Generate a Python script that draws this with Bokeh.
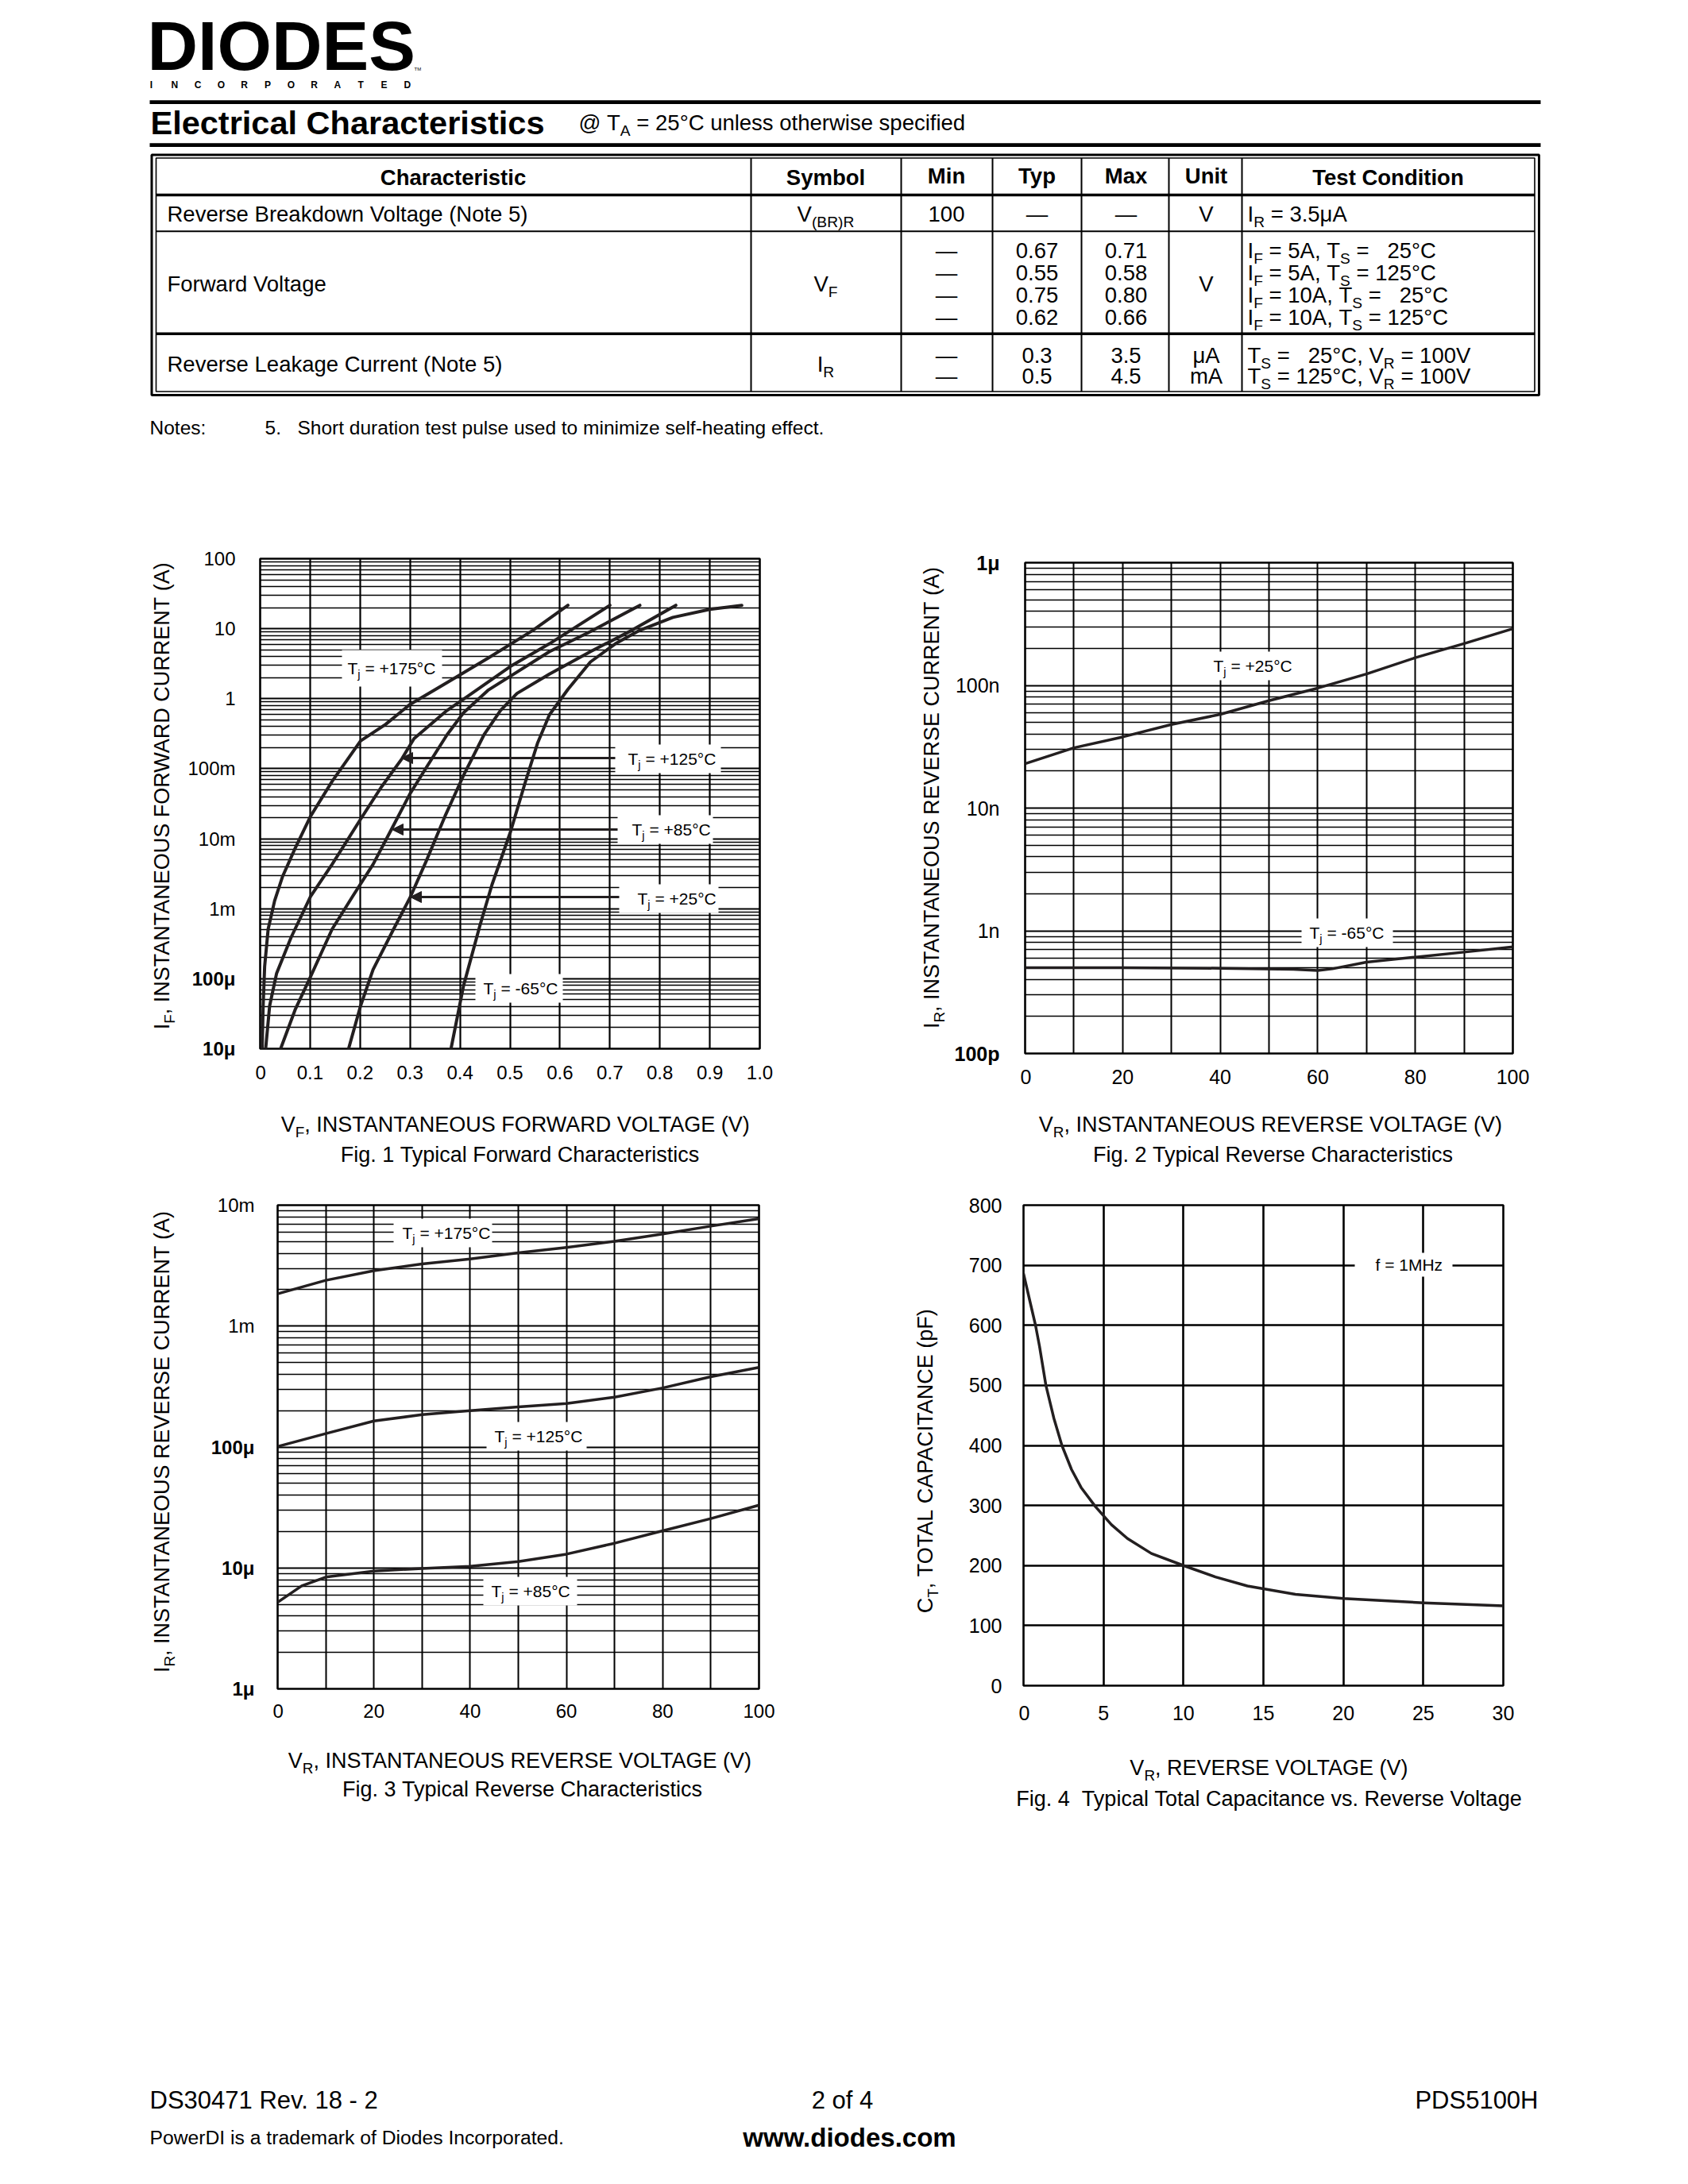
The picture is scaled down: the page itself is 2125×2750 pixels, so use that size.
import math
from bokeh.plotting import figure
from bokeh.models import (Range1d, Label, FixedTicker, CustomJSTickFormatter, Grid,
                          Arrow, NormalHead)
from bokeh.layouts import column, row
from bokeh.embed import file_html
from bokeh.resources import INLINE

FONT = "Liberation Sans"
INK = "#231f20"

# ------------------------------------------------------------------ table data
TABLE_HEADERS = ["Characteristic", "Symbol", "Min", "Typ", "Max", "Unit", "Test Condition"]
VBR_MIN = "100"
VF_TYP = ["0.67", "0.55", "0.75", "0.62"]
VF_MAX = ["0.71", "0.58", "0.80", "0.66"]
VF_IF = ["5A", "5A", "10A", "10A"]
VF_TS = ["25°C", "125°C", "25°C", "125°C"]
IR_TYP = ["0.3", "0.5"]
IR_MAX = ["3.5", "4.5"]
IR_UNIT = ["μA", "mA"]
IR_TS = ["25°C", "125°C"]

# ------------------------------------------------------------------ Fig. 1 data (VF [V], IF [A])
VF_175 = [0.004, 0.006, 0.009, 0.016, 0.029, 0.045, 0.070, 0.101, 0.144, 0.201, 0.251, 0.300, 0.374, 0.456, 0.546, 0.616]
IF_175 = [1.0e-5, 4.1e-5, 1.5e-4, 5.1e-4, 1.3e-3, 2.9e-3, 7.3e-3, 0.021, 0.066, 0.25, 0.43, 0.83, 1.7, 3.8, 9.5, 21.6]
VF_125 = [0.011, 0.019, 0.033, 0.062, 0.101, 0.144, 0.201, 0.242, 0.284, 0.308, 0.374, 0.415, 0.501, 0.579, 0.700]
IF_125 = [1.0e-5, 4.1e-5, 1.2e-4, 3.9e-4, 1.5e-3, 4.3e-3, 0.019, 0.054, 0.14, 0.27, 0.68, 1.08, 2.9, 6.1, 21.6]
VF_85 = [0.041, 0.070, 0.099, 0.144, 0.185, 0.226, 0.263, 0.300, 0.333, 0.374, 0.407, 0.456, 0.501, 0.579, 0.661, 0.760]
IF_85 = [1.0e-5, 3.6e-5, 1.0e-4, 5.1e-4, 1.5e-3, 4.3e-3, 0.0137, 0.044, 0.105, 0.305, 0.63, 1.32, 2.1, 4.7, 9.1, 21.6]
VF_25 = [0.177, 0.201, 0.226, 0.267, 0.300, 0.333, 0.370, 0.407, 0.448, 0.481, 0.514, 0.579, 0.661, 0.744, 0.832]
IF_25 = [1.0e-5, 4.1e-5, 1.35e-4, 5.1e-4, 1.44e-3, 4.9e-3, 0.021, 0.08, 0.305, 0.68, 1.19, 2.25, 4.7, 9.5, 21.6]
VF_M65 = [0.382, 0.407, 0.440, 0.464, 0.501, 0.530, 0.555, 0.579, 0.616, 0.661, 0.711, 0.760, 0.826, 0.900, 0.964]
IF_M65 = [1.0e-5, 7.9e-5, 5.8e-4, 2.2e-3, 0.0125, 0.062, 0.23, 0.59, 1.36, 3.35, 6.1, 9.5, 14.5, 18.9, 21.6]
F1_XTICKS = [0.0, 0.1, 0.2, 0.3, 0.4, 0.5, 0.6, 0.7, 0.8, 0.9, 1.0]
F1_XLABELS = ["0", "0.1", "0.2", "0.3", "0.4", "0.5", "0.6", "0.7", "0.8", "0.9", "1.0"]
F1_YTICKS = [1e-5, 1e-4, 1e-3, 1e-2, 1e-1, 1.0, 10.0, 100.0]
F1_YLABELS = ["10μ", "100μ", "1m", "10m", "100m", "1", "10", "100"]

# ------------------------------------------------------------------ Fig. 2 data (VR [V], IR [A])
VR2_25 = [0, 10, 20, 30, 40, 50, 60, 70, 80, 90, 100]
IR2_25 = [23e-9, 31e-9, 38e-9, 48e-9, 58e-9, 75e-9, 95e-9, 124e-9, 168e-9, 219e-9, 290e-9]
VR2_M65 = [0, 20, 40, 55, 60, 63, 70, 80, 90, 100]
IR2_M65 = [0.50e-9, 0.50e-9, 0.495e-9, 0.485e-9, 0.475e-9, 0.49e-9, 0.555e-9, 0.61e-9, 0.67e-9, 0.74e-9]
F2_XTICKS = [0, 20, 40, 60, 80, 100]
F2_XLABELS = ["0", "20", "40", "60", "80", "100"]
F2_YTICKS = [1e-10, 1e-9, 1e-8, 1e-7, 1e-6]
F2_YLABELS = ["100p", "1n", "10n", "100n", "1μ"]

# ------------------------------------------------------------------ Fig. 3 data (VR [V], IR [A])
VR3 = [0, 10, 20, 30, 40, 50, 60, 70, 80, 90, 100]
IR3_175 = [1.85e-3, 2.39e-3, 2.87e-3, 3.27e-3, 3.59e-3, 4.03e-3, 4.47e-3, 5.02e-3, 5.78e-3, 6.71e-3, 7.73e-3]
IR3_125 = [101e-6, 129e-6, 164e-6, 185e-6, 200e-6, 215e-6, 229e-6, 258e-6, 308e-6, 381e-6, 456e-6]
VR3_85 = [0, 5, 10, 20, 30, 40, 50, 60, 70, 80, 90, 100]
IR3_85 = [5.2e-6, 7.1e-6, 8.4e-6, 9.4e-6, 9.9e-6, 10.3e-6, 11.3e-6, 13.0e-6, 16.0e-6, 20.3e-6, 25.6e-6, 33.0e-6]
F3_XTICKS = [0, 20, 40, 60, 80, 100]
F3_XLABELS = ["0", "20", "40", "60", "80", "100"]
F3_YTICKS = [1e-6, 1e-5, 1e-4, 1e-3, 1e-2]
F3_YLABELS = ["1μ", "10μ", "100μ", "1m", "10m"]

# ------------------------------------------------------------------ Fig. 4 data (VR [V], CT [pF])
VR4 = [0, 0.4, 0.75, 1.0, 1.4, 1.9, 2.4, 3.0, 3.6, 4.5, 5.5, 6.5, 8.0, 10, 12, 14, 17, 20, 25, 30]
CT4 = [686, 640, 600, 565, 500, 445, 400, 360, 330, 298, 268, 245, 220, 200, 181, 166, 152, 145, 138, 133]
F4_XTICKS = [0, 5, 10, 15, 20, 25, 30]
F4_XLABELS = ["0", "5", "10", "15", "20", "25", "30"]
F4_YTICKS = [0, 100, 200, 300, 400, 500, 600, 700, 800]
F4_YLABELS = ["0", "100", "200", "300", "400", "500", "600", "700", "800"]

# ------------------------------------------------------------------ text metrics (Arial / Liberation Sans)
_W = {' ': 278, '\u00a0': 278, '!': 278, '(': 333, ')': 333, '+': 584, ',': 278, '-': 333,
      '.': 278, '/': 278, ':': 278, '=': 584, '@': 1015, '°': 400, 'μ': 576, '—': 1000}
for _c in "0123456789":
    _W[_c] = 556
_W.update(dict(A=667, B=667, C=722, D=722, E=667, F=611, G=778, H=722, I=278, J=500, K=667,
               L=556, M=833, N=722, O=778, P=667, Q=778, R=722, S=667, T=611, U=722, V=667,
               W=944, X=667, Y=667, Z=611))
_W.update(dict(a=556, b=556, c=500, d=556, e=556, f=278, g=556, h=556, i=222, j=222, k=500,
               l=222, m=833, n=556, o=556, p=556, q=556, r=333, s=500, t=278, u=556, v=500,
               w=722, x=500, y=500, z=500))


def tw(s, size):
    return sum(_W.get(c, 556) for c in s) * size / 1000.0


class Geo:
    """maps page pixel positions to a figure's data coordinates"""
    def __init__(self, left, top, w, h, xr, yr, xlog=False, ylog=False):
        self.left, self.top, self.w, self.h = left, top, w, h
        self.xr, self.yr, self.xlog, self.ylog = xr, yr, xlog, ylog

    @staticmethod
    def _m(f, r, lg):
        a, b = r
        if lg:
            la, lb = math.log10(a), math.log10(b)
            return 10 ** (la + f * (lb - la))
        return a + f * (b - a)

    def x(self, X):
        return self._m((X - self.left) / self.w, self.xr, self.xlog)

    def y(self, Y):
        return self._m((self.top + self.h - Y) / self.h, self.yr, self.ylog)


def nb(s):
    return s.replace(" ", "\u00a0")


def lab(p, g, X, Y, text, size, align="left", bold=False, angle=0.0, color="black"):
    """Y is the visual (cap) centre of the text line"""
    p.add_layout(Label(x=g.x(X), y=g.y(Y), text=nb(text), text_font=FONT,
                       text_font_size="%.1fpx" % size,
                       text_font_style="bold" if bold else "normal",
                       text_align=align, text_baseline="middle", angle=angle,
                       text_color=color))


SUBR = 0.7
SUBDROP = 0.36


def rich(p, g, X, C, segs, size, align="left"):
    sizes = [size * SUBR if s else size for _, s in segs]
    ws = [tw(t, sz) for (t, _), sz in zip(segs, sizes)]
    tot = sum(ws)
    shift = {"left": 0.0, "center": tot / 2.0, "right": tot}[align]
    pos = 0.0
    for (t, s), sz, w in zip(segs, sizes, ws):
        lab(p, g, X - shift + pos, C + (SUBDROP * size if s else 0.0), t, sz)
        pos += w


def rich_v(p, g, Xc, Yc, segs, size):
    """rotated 90deg (reads bottom to top), centred at Yc, cap centre at Xc"""
    sizes = [size * SUBR if s else size for _, s in segs]
    ws = [tw(t, sz) for (t, _), sz in zip(segs, sizes)]
    tot = sum(ws)
    pos = 0.0
    for (t, s), sz, w in zip(segs, sizes, ws):
        lab(p, g, Xc + (SUBDROP * size if s else 0.0), Yc + tot / 2.0 - pos, t, sz,
            angle=math.pi / 2)
        pos += w


JS = """
for (let i = 0; i < vals.length; i++) {
  const v = vals[i];
  if (Math.abs(v - tick) <= 1e-6 * Math.max(Math.abs(v), Math.abs(tick)) + 1e-15) return labs[i];
}
return "";
"""


def textfig(x0, y0, w, h):
    p = figure(frame_width=w, frame_height=h, x_range=Range1d(x0, x0 + w),
               y_range=Range1d(y0 + h, y0), x_axis_type=None, y_axis_type=None,
               output_backend="svg", toolbar_location=None, min_border=0)
    p.outline_line_color = None
    return p, Geo(x0, y0, w, h, (x0, x0 + w), (y0 + h, y0))


def axisfig(x0, w, y0, h, gc):
    """strip left of a chart: same vertical scale as the chart (extended to the strip's height)"""
    yr = (gc.y(y0 + h), gc.y(y0))
    p = figure(frame_width=w, frame_height=h, x_range=Range1d(x0, x0 + w),
               y_range=Range1d(*yr), y_axis_type="log" if gc.ylog else "linear",
               x_axis_location=None, y_axis_location=None,
               output_backend="svg", toolbar_location=None, min_border=0)
    p.outline_line_color = None
    p.xgrid.visible = False
    p.ygrid.visible = False
    return p, Geo(x0, y0, w, h, (x0, x0 + w), yr, False, gc.ylog)


def chart(page_left, page_top, fig_left, fig_top, fw, fh, fig_w, fig_h, xr, yr, ylog):
    mbl = page_left - fig_left
    mbt = page_top - fig_top
    mbr = fig_w - mbl - fw
    mbb = fig_h - mbt - fh
    p = figure(frame_width=fw, frame_height=fh, x_range=Range1d(*xr), y_range=Range1d(*yr),
               y_axis_type="log" if ylog else "linear", y_axis_location=None,
               output_backend="svg", toolbar_location=None, min_border_left=mbl,
               min_border_right=mbr, min_border_top=mbt, min_border_bottom=mbb)
    p.outline_line_color = "black"
    p.outline_line_width = 2.6
    p.xgrid.visible = False
    p.ygrid.visible = False
    return p, Geo(page_left, page_top, fw, fh, xr, yr, False, ylog)


def xaxis(p, xt, xl, stand, size):
    ax = p.xaxis
    ax.ticker = FixedTicker(ticks=xt)
    ax.formatter = CustomJSTickFormatter(args=dict(vals=xt, labs=xl), code=JS)
    ax.axis_line_color = None
    ax.major_tick_line_color = None
    ax.minor_tick_line_color = None
    ax.major_tick_out = 0
    ax.major_tick_in = 0
    ax.minor_tick_out = 0
    ax.minor_tick_in = 0
    ax.major_label_text_font = FONT
    ax.major_label_text_font_size = "%dpx" % size
    ax.major_label_text_color = "black"
    ax.major_label_standoff = stand


def ylabels(p, g, x_right, ticks, labels, size):
    for v, s in zip(ticks, labels):
        bold = ("μ" in s) or ("p" in s)
        p.add_layout(Label(x=g.x(x_right), y=v, text=s, text_font=FONT,
                           text_font_size="%dpx" % size,
                           text_font_style="bold" if bold else "normal",
                           text_align="right", text_baseline="middle", text_color="black"))


def grid(p, dim, ticks, width):
    p.add_layout(Grid(dimension=dim, ticker=FixedTicker(ticks=ticks),
                      grid_line_color="black", grid_line_width=width))


def log_grid(p, lo_exp, hi_exp, major_w, minor_w):
    decades = [10.0 ** k for k in range(lo_exp + 1, hi_exp)]
    minors = [m * 10.0 ** k for k in range(lo_exp, hi_exp) for m in range(2, 10)]
    grid(p, 1, minors, minor_w)
    grid(p, 1, decades, major_w)


def box(p, g, l, r, t, b):
    p.quad(left=[g.x(l)], right=[g.x(r)], top=[g.y(t)], bottom=[g.y(b)],
           fill_color="white", line_color=None)


def tj(p, g, X, C, temp, size=21):
    rich(p, g, X, C, [("T", 0), ("j", 1), (" = " + temp, 0)], size)


# ================================================================== header
hdr, gh = textfig(0, 0, 2120, 636)
lab(hdr, gh, 185, 57, "DIODES", 88, bold=True)
lab(hdr, gh, 521, 86, "TM", 6)
for i, ch in enumerate("INCORPORATED"):
    lab(hdr, gh, 190 + i * 29.3, 106, ch, 12, align="center", bold=True)

hdr.quad(left=[188, 188], right=[1939, 1939], top=[125.7, 179.8], bottom=[130.5, 184.6],
         fill_color="black", line_color=None)
lab(hdr, gh, 189, 154, "Electrical Characteristics", 41.5, bold=True)
rich(hdr, gh, 728, 154, [("@ T", 0), ("A", 1), (" = 25°C unless otherwise specified", 0)], 27.5)

# table frame
hdr.quad(left=[190.5], right=[1937], top=[194.5], bottom=[497], fill_color=None,
         line_color="black", line_width=3)
hdr.quad(left=[196], right=[1931.5], top=[198.5], bottom=[492.5], fill_color=None,
         line_color="black", line_width=1.6)
hdr.segment(x0=[196, 196, 196], y0=[245, 290.7, 419.7], x1=[1931.5, 1931.5, 1931.5],
            y1=[245, 290.7, 419.7], line_color="black", line_width=[3.5, 2, 3.5])
COLX = [945, 1134, 1249, 1361, 1471, 1563]
hdr.segment(x0=COLX, y0=[198.5] * 6, x1=COLX, y1=[492.5] * 6, line_color="black", line_width=2)

HX = [570, 1039, 1191, 1305, 1417, 1518, 1747]
HC = [223, 223, 221, 221, 221, 221, 223]
for t, x, c in zip(TABLE_HEADERS, HX, HC):
    lab(hdr, gh, x, c, t, 27.5, align="center", bold=True)

TS = 27.5
# row 1
lab(hdr, gh, 210, 269, "Reverse Breakdown Voltage (Note 5)", TS)
rich(hdr, gh, 1039, 269, [("V", 0), ("(BR)R", 1)], TS, align="center")
lab(hdr, gh, 1191, 269, VBR_MIN, TS, align="center")
lab(hdr, gh, 1305, 269, "—", TS, align="center")
lab(hdr, gh, 1417, 269, "—", TS, align="center")
lab(hdr, gh, 1518, 269, "V", TS, align="center")
rich(hdr, gh, 1570, 269, [("I", 0), ("R", 1), (" = 3.5μA", 0)], TS)

# row 2
lab(hdr, gh, 210, 357, "Forward Voltage", TS)
rich(hdr, gh, 1039, 357, [("V", 0), ("F", 1)], TS, align="center")
lab(hdr, gh, 1518, 357, "V", TS, align="center")
for c, ty, mx, i_f, ts in zip([315, 343, 371, 399], VF_TYP, VF_MAX, VF_IF, VF_TS):
    lab(hdr, gh, 1191, c, "—", TS, align="center")
    lab(hdr, gh, 1305, c, ty, TS, align="center")
    lab(hdr, gh, 1417, c, mx, TS, align="center")
    pad = "  " if len(ts) == 4 else ""
    rich(hdr, gh, 1570, c, [("I", 0), ("F", 1), (" = " + i_f + ", T", 0), ("S", 1),
                            (" = " + pad + ts, 0)], TS)

# row 3
lab(hdr, gh, 210, 458, "Reverse Leakage Current (Note 5)", TS)
rich(hdr, gh, 1039, 458, [("I", 0), ("R", 1)], TS, align="center")
for c, ty, mx, un, ts in zip([447, 473], IR_TYP, IR_MAX, IR_UNIT, IR_TS):
    lab(hdr, gh, 1191, c, "—", TS, align="center")
    lab(hdr, gh, 1305, c, ty, TS, align="center")
    lab(hdr, gh, 1417, c, mx, TS, align="center")
    lab(hdr, gh, 1518, c, un, TS, align="center")
    pad = "  " if len(ts) == 4 else ""
    rich(hdr, gh, 1570, c, [("T", 0), ("S", 1), (" = " + pad + ts + ", V", 0), ("R", 1),
                            (" = 100V", 0)], TS)

lab(hdr, gh, 188, 538, "Notes:", 24.5)
lab(hdr, gh, 333, 538, "5.", 24.5)
lab(hdr, gh, 374, 538, "Short duration test pulse used to minimize self-heating effect.", 24.5)

# ================================================================== Fig. 1
f1, g1 = chart(327, 703, 321, 636, 629, 617, 779, 744, (0, 1), (1e-5, 100), True)
grid(f1, 0, F1_XTICKS[1:-1], 2.2)
log_grid(f1, -5, 2, 2.2, 1.6)
xaxis(f1, F1_XTICKS, F1_XLABELS, 21, 24)
box(f1, g1, 430, 556, 818, 864)
box(f1, g1, 774, 907, 937, 973)
box(f1, g1, 777, 897, 1026, 1062)
box(f1, g1, 779, 904, 1113, 1149)
box(f1, g1, 598, 708, 1226, 1262)
for vv, ii in [(VF_175, IF_175), (VF_125, IF_125), (VF_85, IF_85), (VF_25, IF_25), (VF_M65, IF_M65)]:
    f1.line(vv, ii, line_width=4, line_color=INK, line_join="round", line_cap="round")
for (xs, ys, xe) in [(774, 954, 505), (777, 1044, 493), (779, 1129, 516)]:
    f1.add_layout(Arrow(end=NormalHead(size=14, fill_color=INK, line_color=INK),
                        x_start=g1.x(xs), y_start=g1.y(ys), x_end=g1.x(xe), y_end=g1.y(ys),
                        line_color=INK, line_width=3))
tj(f1, g1, 437, 841, "+175°C")
tj(f1, g1, 790, 955, "+125°C")
tj(f1, g1, 795, 1044, "+85°C")
tj(f1, g1, 802, 1131, "+25°C")
tj(f1, g1, 608, 1244, "-65°C")
yt1, gy1 = axisfig(0, 321, 636, 744, g1)
ylabels(yt1, gy1, 296, F1_YTICKS, F1_YLABELS, 24)
rich_v(yt1, gy1, 203, 999, [("I", 0), ("F", 1), (", INSTANTANEOUS FORWARD CURRENT (A)", 0)], 27)

# ================================================================== Fig. 2
f2, g2 = chart(1290, 708, 1284, 636, 614, 618, 836, 744, (0, 100), (1e-10, 1e-6), True)
grid(f2, 0, [10, 20, 30, 40, 50, 60, 70, 80, 90], 2.0)
log_grid(f2, -10, -6, 2.2, 1.6)
xaxis(f2, F2_XTICKS, F2_XLABELS, 20, 25)
box(f2, g2, 1515, 1637, 820, 856)
box(f2, g2, 1638, 1753, 1156, 1192)
f2.line(VR2_25, IR2_25, line_width=3.5, line_color=INK, line_join="round")
f2.line(VR2_M65, IR2_M65, line_width=3.5, line_color=INK, line_join="round")
tj(f2, g2, 1527, 838, "+25°C")
tj(f2, g2, 1648, 1174, "-65°C")
yt2, gy2 = axisfig(1100, 184, 636, 744, g2)
ylabels(yt2, gy2, 1258, F2_YTICKS, F2_YLABELS, 25)
rich_v(yt2, gy2, 1172, 1002, [("I", 0), ("R", 1), (", INSTANTANEOUS REVERSE CURRENT (A)", 0)], 27)

# x titles / captions of Figs. 1 and 2
xr1, gx1 = textfig(0, 1380, 2120, 96)
rich(xr1, gx1, 653, 1415, [("V", 0), ("F", 1), (", INSTANTANEOUS FORWARD VOLTAGE (V)", 0)], 27, align="center")
lab(xr1, gx1, 654, 1453, "Fig. 1 Typical Forward Characteristics", 27, align="center")
rich(xr1, gx1, 1603, 1415, [("V", 0), ("R", 1), (", INSTANTANEOUS REVERSE VOLTAGE (V)", 0)], 27, align="center")
lab(xr1, gx1, 1602, 1453, "Fig. 2 Typical Reverse Characteristics", 27, align="center")

# ================================================================== Fig. 3
f3, g3 = chart(349, 1517, 343, 1476, 606, 609, 757, 714, (0, 100), (1e-6, 1e-2), True)
grid(f3, 0, [10, 20, 30, 40, 50, 60, 70, 80, 90], 2.0)
log_grid(f3, -6, -2, 2.2, 1.6)
xaxis(f3, F3_XTICKS, F3_XLABELS, 19, 24)
box(f3, g3, 495, 619, 1534, 1570)
box(f3, g3, 612, 738, 1790, 1826)
box(f3, g3, 608, 726, 1985, 2021)
f3.line(VR3, IR3_175, line_width=3.5, line_color=INK, line_join="round")
f3.line(VR3, IR3_125, line_width=3.5, line_color=INK, line_join="round")
f3.line(VR3_85, IR3_85, line_width=3.5, line_color=INK, line_join="round")
tj(f3, g3, 506, 1552, "+175°C")
tj(f3, g3, 622, 1808, "+125°C")
tj(f3, g3, 618, 2003, "+85°C")
yt3, gy3 = axisfig(0, 343, 1476, 714, g3)
ylabels(yt3, gy3, 320, F3_YTICKS, F3_YLABELS, 24)
rich_v(yt3, gy3, 203, 1813, [("I", 0), ("R", 1), (", INSTANTANEOUS REVERSE CURRENT (A)", 0)], 27)

# ================================================================== Fig. 4
f4, g4 = chart(1288, 1517, 1282, 1476, 604, 605, 838, 714, (0, 30), (0, 800), False)
grid(f4, 0, [5, 10, 15, 20, 25], 2.6)
grid(f4, 1, [100, 200, 300, 400, 500, 600, 700], 2.6)
xaxis(f4, F4_XTICKS, F4_XLABELS, 25, 25)
box(f4, g4, 1705, 1828, 1577, 1607)
f4.line(VR4, CT4, line_width=3.5, line_color=INK, line_join="round")
lab(f4, g4, 1731, 1592, "f = 1MHz", 21)
yt4, gy4 = axisfig(1100, 182, 1476, 714, g4)
ylabels(yt4, gy4, 1261, F4_YTICKS, F4_YLABELS, 25)
rich_v(yt4, gy4, 1164, 1836, [("C", 0), ("T", 1), (", TOTAL CAPACITANCE (pF)", 0)], 27)

# x titles / captions of Figs. 3 and 4
xr2, gx2 = textfig(0, 2190, 2120, 100)
rich(xr2, gx2, 658, 2216, [("V", 0), ("R", 1), (", INSTANTANEOUS REVERSE VOLTAGE (V)", 0)], 27, align="center")
lab(xr2, gx2, 657, 2252, "Fig. 3 Typical Reverse Characteristics", 27, align="center")
rich(xr2, gx2, 1599, 2225, [("V", 0), ("R", 1), (", REVERSE VOLTAGE (V)", 0)], 27, align="center")
lab(xr2, gx2, 1597, 2264, "Fig. 4  Typical Total Capacitance vs. Reverse Voltage", 27, align="center")

# ================================================================== footer
ftr, gf = textfig(0, 2290, 2120, 455)
lab(ftr, gf, 188, 2644, "DS30471 Rev. 18 - 2", 31)
lab(ftr, gf, 1060, 2644, "2 of 4", 31, align="center")
lab(ftr, gf, 1936, 2644, "PDS5100H", 31, align="right")
lab(ftr, gf, 188, 2691, "PowerDI is a trademark of Diodes Incorporated.", 24.7)
lab(ftr, gf, 1069, 2691, "www.diodes.com", 33, align="center", bold=True)

page = column(
    hdr,
    row(column(yt1), column(f1), column(yt2), column(f2)),
    xr1,
    row(column(yt3), column(f3), column(yt4), column(f4)),
    xr2,
    ftr,
)
open("out.html", "w").write(file_html(page, INLINE))
